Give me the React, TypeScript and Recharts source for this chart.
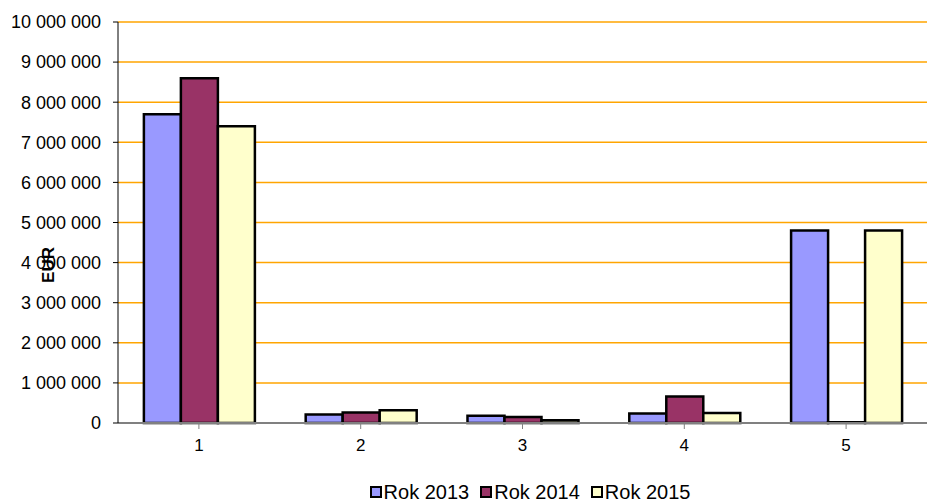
import { BarChart, Bar, XAxis, YAxis, CartesianGrid, Legend } from 'recharts';

const categories = ['1', '2', '3', '4', '5'];
const rok2013 = [7700000, 210000, 180000, 240000, 4800000];
const rok2014 = [8600000, 260000, 150000, 660000, 20000];
const rok2015 = [7400000, 320000, 70000, 250000, 4800000];
const yTicks = [0, 1000000, 2000000, 3000000, 4000000, 5000000, 6000000, 7000000, 8000000, 9000000, 10000000];

const series = [
  { key: 'r2013', name: 'Rok 2013', color: '#9999FF' },
  { key: 'r2014', name: 'Rok 2014', color: '#993366' },
  { key: 'r2015', name: 'Rok 2015', color: '#FFFFCC' },
];

const data = categories.map((c, i) => ({
  name: c,
  r2013: rok2013[i],
  r2014: rok2014[i],
  r2015: rok2015[i],
}));

const fmt = (v: number) => String(v).replace(/\B(?=(\d{3})+(?!\d))/g, ' ');

const LegendContent = () => (
  <div
    style={{
      display: 'flex',
      justifyContent: 'center',
      gap: 11,
      fontSize: 20,
      lineHeight: '22px',
      color: '#000',
      paddingTop: 14,
      paddingLeft: 133,
    }}
  >
    {series.map((s) => (
      <span key={s.key} style={{ display: 'flex', alignItems: 'center' }}>
        <span
          style={{
            width: 8,
            height: 8,
            background: s.color,
            border: '2px solid #000',
            marginRight: 2,
            display: 'inline-block',
          }}
        />
        {s.name}
      </span>
    ))}
  </div>
);

const EurLabel = () => (
  <text
    x={54}
    y={265}
    transform="rotate(-90 54 265)"
    textAnchor="middle"
    fontWeight="bold"
    fontSize={17}
    fill="#000"
  >
    EUR
  </text>
);

const App = () => {
  return (
    <div style={{ position: 'absolute', left: 0, top: 0, fontFamily: '"Liberation Sans", Arial, sans-serif' }}>
      <BarChart
        width={929}
        height={504}
        data={data}
        margin={{ top: 22, right: 2, left: 0, bottom: 4 }}
        barCategoryGap="16%"
        barGap={0}
      >
        <CartesianGrid horizontal vertical={false} stroke="#FFA500" strokeWidth={1.5} />
        <XAxis
          dataKey="name"
          tick={{ fill: '#000', fontSize: 17 }}
          tickLine={{ stroke: '#808080' }}
          axisLine={{ stroke: '#808080', strokeWidth: 2 }}
          tickSize={6}
          tickMargin={10}
          height={44}
          interval={0}
        />
        <YAxis
          width={118}
          domain={[0, 10000000]}
          ticks={yTicks}
          tickFormatter={fmt}
          tick={{ fill: '#000', fontSize: 18 }}
          tickLine={{ stroke: '#000' }}
          axisLine={{ stroke: '#000' }}
          tickSize={5}
          tickMargin={12}
          interval={0}
          label={<EurLabel />}
        />
        <Legend verticalAlign="bottom" height={33} content={<LegendContent />} />
        {series.map((s) => (
          <Bar
            key={s.key}
            dataKey={s.key}
            name={s.name}
            fill={s.color}
            stroke="#000"
            strokeWidth={2.5}
            isAnimationActive={false}
          />
        ))}
      </BarChart>
    </div>
  );
};

export default App;
